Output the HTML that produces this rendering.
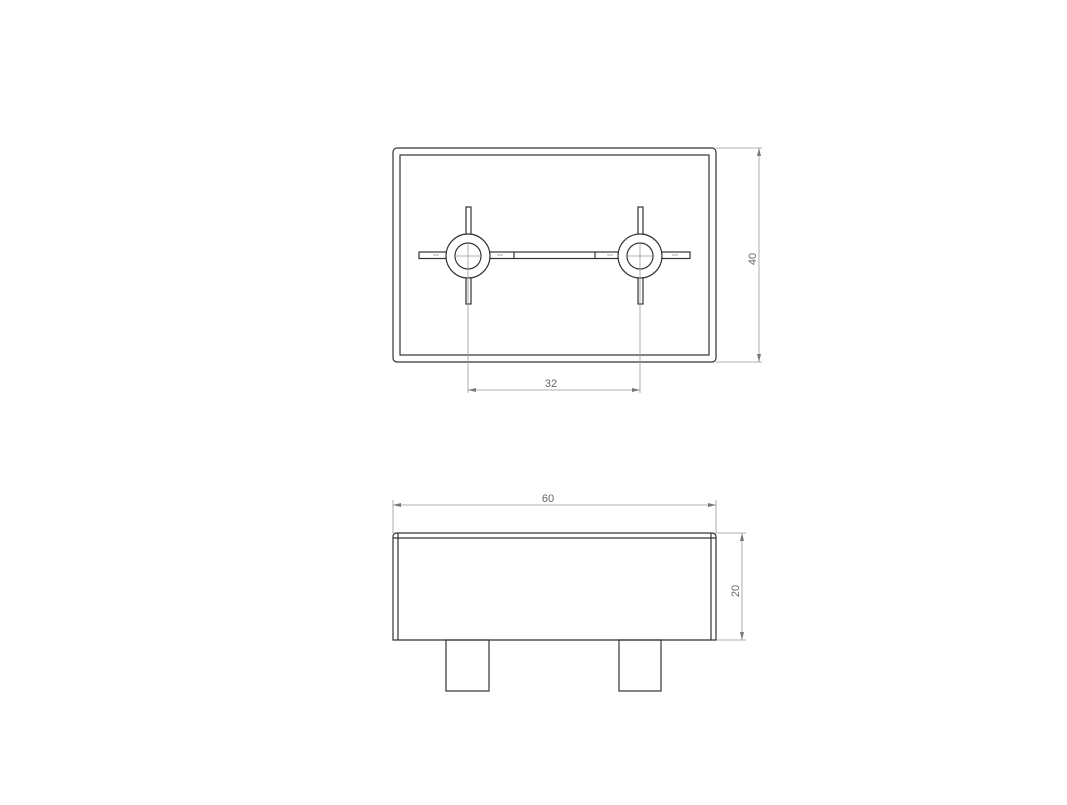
<!DOCTYPE html>
<html><head><style>body{margin:0;background:#fff}</style></head><body>
<svg width="1067" height="800" viewBox="0 0 1067 800" xmlns="http://www.w3.org/2000/svg" font-family="Liberation Sans, sans-serif">
<g fill="none" stroke="#333" stroke-width="1.2">
<rect x="393" y="148" width="323" height="214" rx="4"/>
<rect x="400" y="155" width="309" height="200"/>
<rect x="419" y="252" width="271" height="6.5" fill="#fff"/>
<line x1="514" y1="252" x2="514" y2="258.5"/><line x1="595" y1="252" x2="595" y2="258.5"/>
<rect x="466" y="207" width="5" height="97" fill="#fff"/>
<rect x="638" y="207" width="5" height="97" fill="#fff"/>
<circle cx="468" cy="256" r="22" fill="#fff"/><circle cx="468" cy="256" r="13"/>
<circle cx="640" cy="256" r="22" fill="#fff"/><circle cx="640" cy="256" r="13"/>
</g>
<g stroke="#999" stroke-width="0.8" fill="none">
<line x1="433" y1="255" x2="439" y2="255"/><line x1="497" y1="255" x2="503" y2="255"/>
<line x1="607" y1="255" x2="613" y2="255"/><line x1="672" y1="255" x2="678" y2="255"/>
<line x1="455" y1="256" x2="481" y2="256"/><line x1="627" y1="256" x2="653" y2="256"/>
<line x1="468" y1="243" x2="468" y2="393"/><line x1="640" y1="243" x2="640" y2="393"/>
<line x1="468" y1="390" x2="640" y2="390"/>
<line x1="716" y1="148" x2="762" y2="148"/><line x1="716" y1="362" x2="762" y2="362"/>
<line x1="759" y1="148" x2="759" y2="362"/>
<line x1="393" y1="505" x2="716" y2="505"/>
<line x1="393" y1="500" x2="393" y2="533"/><line x1="716" y1="500" x2="716" y2="533"/>
<line x1="716" y1="533" x2="746" y2="533"/><line x1="716" y1="640" x2="746" y2="640"/>
<line x1="742" y1="533" x2="742" y2="640"/>
</g>
<g fill="#777">
<path d="M468 390l8-2v4zM640 390l-8-2v4z"/>
<path d="M759 148l-2 8h4zM759 362l-2-8h4z"/>
<path d="M393 505l8-2v4zM716 505l-8-2v4z"/>
<path d="M742 533l-2 8h4zM742 640l-2-8h4z"/>
</g>
<g fill="#666" font-size="11">
<text x="551" y="387" text-anchor="middle">32</text>
<text x="548" y="502" text-anchor="middle">60</text>
<text transform="translate(756,259) rotate(-90)" text-anchor="middle">40</text>
<text transform="translate(739,591) rotate(-90)" text-anchor="middle">20</text>
</g>
<g fill="none" stroke="#333" stroke-width="1.2">
<path d="M393 640V537q0-4 4-4h315q4 0 4 4v103z"/>
<line x1="393" y1="538" x2="716" y2="538"/>
<line x1="398" y1="533" x2="398" y2="640"/><line x1="711" y1="533" x2="711" y2="640"/>
<rect x="446" y="640" width="43" height="51"/>
<rect x="619" y="640" width="42" height="51"/>
</g>
</svg>
</body></html>
